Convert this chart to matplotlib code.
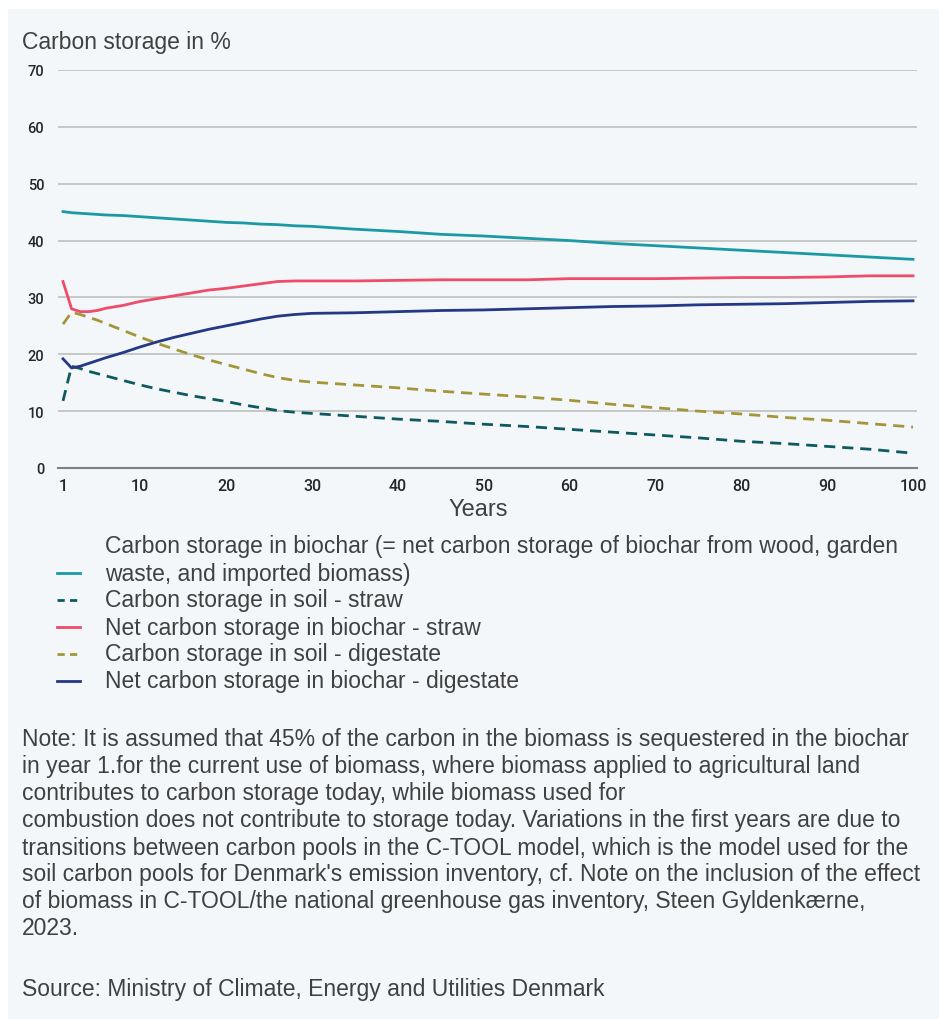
import matplotlib.pyplot as plt
from matplotlib.lines import Line2D
from matplotlib.patches import Rectangle

# Data (carbon storage in %)
years = [1, 2, 3, 4, 5, 6, 8, 10, 12, 14, 16, 18, 20, 22, 24, 26, 28, 30,
         35, 40, 45, 50, 55, 60, 65, 70, 75, 80, 85, 90, 95, 100]
biochar = [45.1, 44.9, 44.8, 44.7, 44.6, 44.5, 44.4, 44.2, 44.0, 43.8, 43.6, 43.4,
           43.2, 43.1, 42.9, 42.8, 42.6, 42.5, 42.0, 41.6, 41.1, 40.8, 40.4, 40.0,
           39.5, 39.1, 38.7, 38.3, 37.9, 37.5, 37.1, 36.7]
soil_straw = [11.8, 17.9, 17.5, 17.0, 16.6, 16.2, 15.4, 14.6, 13.9, 13.3, 12.7, 12.2,
              11.7, 11.1, 10.6, 10.1, 9.8, 9.6, 9.1, 8.6, 8.2, 7.7, 7.3, 6.8,
              6.3, 5.8, 5.3, 4.7, 4.3, 3.8, 3.3, 2.6]
net_straw = [32.8, 28.0, 27.5, 27.5, 27.7, 28.1, 28.6, 29.3, 29.8, 30.3, 30.8, 31.3,
             31.6, 32.0, 32.4, 32.8, 32.9, 32.9, 32.9, 33.0, 33.1, 33.1, 33.1, 33.3,
             33.3, 33.3, 33.4, 33.5, 33.5, 33.6, 33.8, 33.8]
soil_digestate = [25.3, 27.4, 27.0, 26.5, 26.0, 25.4, 24.2, 23.0, 21.9, 20.9, 19.9, 19.0,
                  18.2, 17.4, 16.6, 15.9, 15.4, 15.1, 14.6, 14.1, 13.5, 13.0, 12.5, 11.9,
                  11.2, 10.6, 10.0, 9.5, 8.9, 8.4, 7.8, 7.2]
net_digestate = [19.2, 17.6, 17.9, 18.4, 18.9, 19.4, 20.3, 21.3, 22.2, 23.0, 23.7, 24.4,
                 25.0, 25.6, 26.2, 26.7, 27.0, 27.2, 27.3, 27.5, 27.7, 27.8, 28.0, 28.2,
                 28.4, 28.5, 28.7, 28.8, 28.9, 29.1, 29.3, 29.4]

labels = ["Carbon storage in biochar (= net carbon storage of biochar from wood, garden\nwaste, and imported biomass)",
          "Carbon storage in soil - straw",
          "Net carbon storage in biochar - straw",
          "Carbon storage in soil - digestate",
          "Net carbon storage in biochar - digestate"]
colors = ["#1B9AA5", "#0F5A5E", "#F04B6A", "#A3963A", "#253886"]
dashed = [False, True, False, True, False]
series = [biochar, soil_straw, net_straw, soil_digestate, net_digestate]

xticks = [1, 10, 20, 30, 40, 50, 60, 70, 80, 90, 100]
yticks = [0, 10, 20, 30, 40, 50, 60, 70]

note_lines = [
    "Note: It is assumed that 45% of the carbon in the biomass is sequestered in the biochar",
    "in year 1.for the current use of biomass, where biomass applied to agricultural land",
    "contributes to carbon storage today, while biomass used for",
    "combustion does not contribute to storage today. Variations in the first years are due to",
    "transitions between carbon pools in the C-TOOL model, which is the model used for the",
    "soil carbon pools for Denmark's emission inventory, cf. Note on the inclusion of the effect",
    "of biomass in C-TOOL/the national greenhouse gas inventory, Steen Gyldenkærne,",
    "2023.",
]
source = "Source: Ministry of Climate, Energy and Utilities Denmark"

W, H = 939, 1020
bg = "#F3F7F9"
txt = "#404040"
font = "Liberation Sans"
fs = 16.5

fig = plt.figure(figsize=(W / 100, H / 100), dpi=100, facecolor="white")
fig.patches.append(Rectangle((8 / W, 0), 1, 1 - 10 / H, transform=fig.transFigure,
                             facecolor=bg, edgecolor="none", zorder=-10))

ax = fig.add_axes([58 / W, 1 - 469 / H, (917 - 58) / W, 398 / H])
ax.patch.set_alpha(0)

for vals, c, d in zip(series, colors, dashed):
    if d:
        ax.plot(years, vals, color=c, lw=2, dashes=(4, 2.5))
    else:
        ax.plot(years, vals, color=c, lw=2)

ax.set_xlim(1 - 5 / 8.586, 100 + 4 / 8.586)
ax.set_ylim(0, 70)
ax.set_xticks(xticks)
ax.set_yticks(yticks)
ax.grid(axis="y", color="#BFBFBF", lw=1.2)
ax.set_axisbelow(True)
for s in ["top", "right", "left"]:
    ax.spines[s].set_visible(False)
ax.spines["bottom"].set_color("#808080")
ax.spines["bottom"].set_linewidth(1.5)
ax.tick_params(length=0, labelcolor="#262626")
ax.tick_params(axis="y", pad=10, labelsize=10.5)
ax.tick_params(axis="x", pad=7, labelsize=11.5)
for lab in ax.get_xticklabels() + ax.get_yticklabels():
    lab.set_fontfamily("Roboto")
    lab.set_fontweight("medium")

fig.text(22 / W, 1 - 42 / H, "Carbon storage in %", fontsize=fs, color=txt,
         family=font, va="center", ha="left")
fig.text(478 / W, 1 - 510 / H, "Years", fontsize=17, color=txt,
         family=font, va="center", ha="center")

# legend, drawn by hand so the first handle sits on its second text line
leg_y = [574, 601, 628, 655, 682]
for i, (lab, c, d) in enumerate(zip(labels, colors, dashed)):
    y = 1 - leg_y[i] / H
    ln = Line2D([57 / W, 80 / W], [y, y], transform=fig.transFigure, color=c, lw=2)
    if d:
        ln.set_dashes((2.6, 1.9))
    fig.lines.append(ln)
    parts = lab.split("\n")
    if len(parts) == 2:
        fig.text(105 / W, 1 - 546 / H, parts[0], fontsize=fs, color=txt, family=font, va="center")
        fig.text(105 / W, y, parts[1], fontsize=fs, color=txt, family=font, va="center")
    else:
        fig.text(105 / W, y, lab, fontsize=fs, color=txt, family=font, va="center")

for i, line in enumerate(note_lines):
    fig.text(22 / W, 1 - (740 + 27 * i) / H, line, fontsize=fs, color=txt,
             family=font, va="center")
fig.text(22 / W, 1 - 990 / H, source, fontsize=fs, color=txt, family=font, va="center")

fig.savefig("out.png", dpi=100, facecolor="white")
